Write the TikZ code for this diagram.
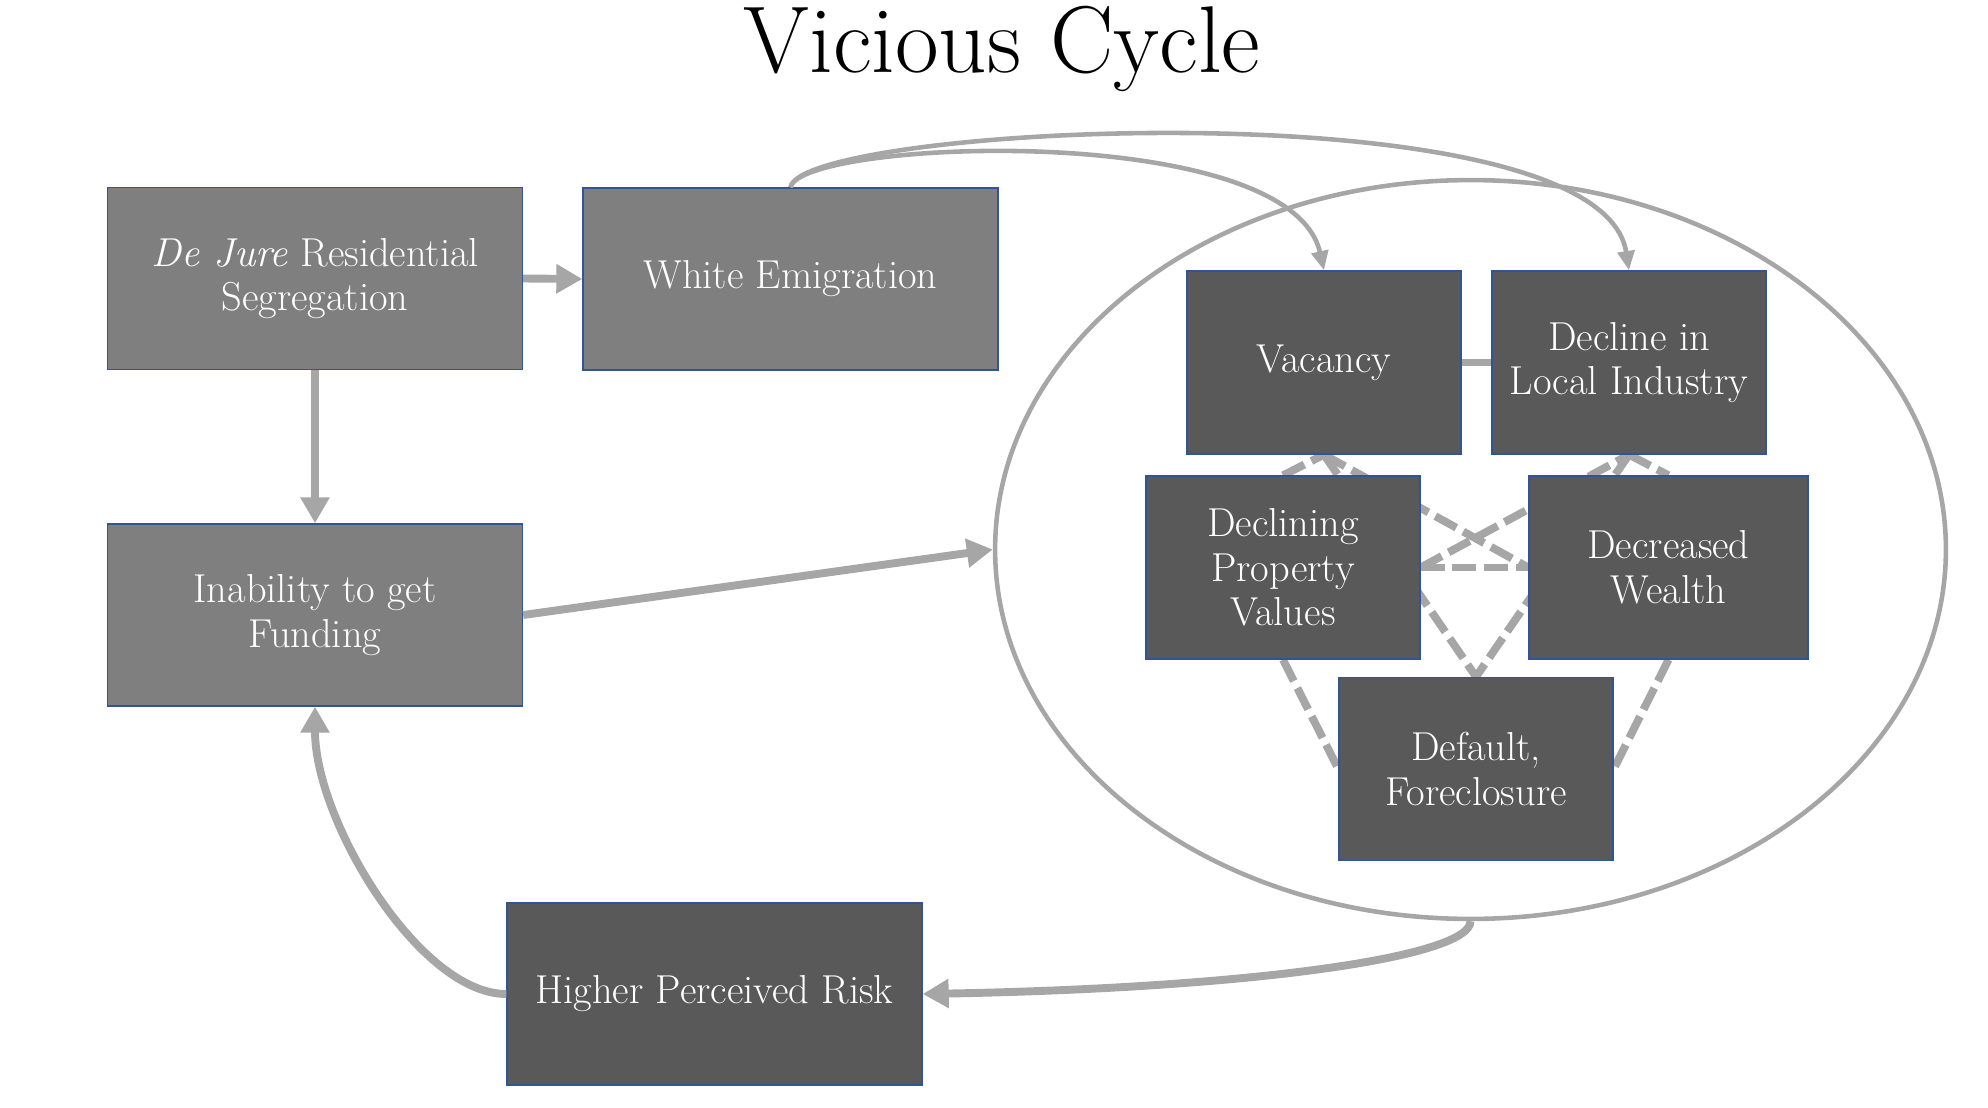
\documentclass[tikz,border=0pt]{standalone}
\usepackage{tikz}
\usetikzlibrary{arrows.meta, shapes.geometric, backgrounds}
\definecolor{boxlight}{HTML}{7F7F7F}
\definecolor{boxdark}{HTML}{595959}
\definecolor{boxedge}{HTML}{2F5597}
\definecolor{link}{HTML}{A6A6A6}

\begin{document}
\begin{tikzpicture}[x=0.02cm, y=-0.02cm,
  box/.style={draw=boxedge, line width=0.8pt, text=white, align=center, inner sep=0pt, font=\fontsize{23}{25.3}\selectfont},
  wide/.style={box, minimum width=8.3cm, minimum height=3.64cm},
  small/.style={box, minimum width=5.48cm, minimum height=3.66cm},
  thick link/.style={draw=link, line width=4.5pt},
  thin link/.style={draw=link, line width=2.6pt},
  dash link/.style={draw=link, line width=4.5pt, dash pattern=on 13.6pt off 4.5pt},
  big tip/.style={-{Triangle[length=14.8pt, width=15.8pt]}},
  small tip/.style={-{Triangle[length=11pt, width=9.5pt]}}]
\useasboundingbox (0,0) rectangle (1988,1108);
\node[anchor=base, inner sep=0pt, font=\fontsize{54}{60}\selectfont] (title) at (1002,73) {Vicious Cycle};
\node[wide, fill=boxlight] (dejure) at (315,278.5) {\textit{De Jure} Residential\\Segregation};
\node[wide, fill=boxlight] (emig) at (790.5,279) {White Emigration};
\node[wide, fill=boxlight] (funding) at (315,615) {Inability to get\\Funding};
\node[wide, fill=boxdark] (risk) at (714.5,994) {Higher Perceived Risk};
\node[ellipse, draw=link, line width=2.6pt, minimum width=19.02cm, minimum height=14.78cm] (cycle) at (1470.5,549.5) {};
\node[small, fill=boxdark] (vacancy) at (1324,362.5) {Vacancy};
\node[small, fill=boxdark] (industry) at (1629,362.5) {Decline in\\Local Industry};
\node[small, fill=boxdark] (values) at (1283,567.5) {Declining\\Property\\Values};
\node[small, fill=boxdark, minimum width=5.58cm] (wealth) at (1668.5,567.5) {Decreased\\Wealth};
\node[small, fill=boxdark] (foreclose) at (1476,769) {Default,\\Foreclosure};
\draw[thick link, big tip] (dejure.east) -- (emig.west);
\draw[thick link, big tip] (dejure.south) -- (funding.north);
\draw[thick link, big tip] (funding.east) -- (cycle.west);
\draw[thick link, big tip] (cycle.south) .. controls +(0,36) and +(328,-6) .. (risk.east);
\draw[thick link, big tip] (risk.west) .. controls +(-87,0) and +(0,114) .. (funding.south);
\draw[thin link, small tip] (emig.north) .. controls +(10,-48) and +(-34,-151) .. (vacancy.north);
\draw[thin link, small tip] (emig.north) .. controls +(10,-63) and +(-29,-186) .. (industry.north);
\begin{scope}[on background layer]
\draw[thick link] (vacancy.east) -- (industry.west);
\draw[dash link] (values.north) -- (vacancy.south);
\draw[dash link] (vacancy.south) -- (wealth.west);
\draw[dash link] (values.east) -- (industry.south);
\draw[dash link] (industry.south) -- (wealth.north);
\draw[dash link] (values.east) -- (wealth.west);
\draw[dash link] (vacancy.south) -- (foreclose.north);
\draw[dash link] (industry.south) -- (foreclose.north);
\draw[dash link] (values.south) -- (foreclose.west);
\draw[dash link] (wealth.south) -- (foreclose.east);
\end{scope}
\end{tikzpicture}
\end{document}
